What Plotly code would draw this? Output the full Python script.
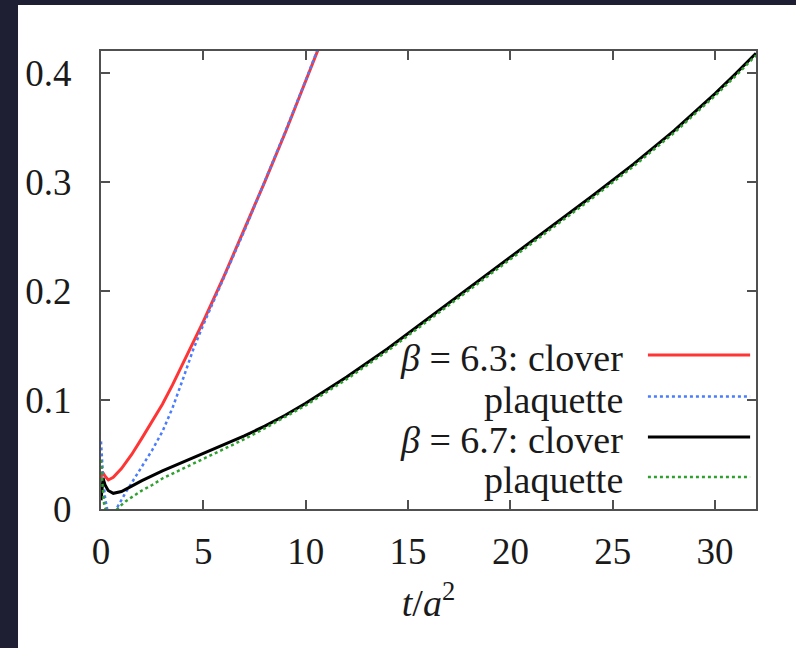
import plotly.graph_objects as go

# ---- data ----
t_c63 = [0, 0.05, 0.1, 0.2, 0.36, 0.6, 1.0, 1.5, 2.0, 2.5, 3.0, 3.5, 4.0, 5.0, 6.0, 7.0, 8.0, 9.0, 10.0, 10.6, 11.0]
y_c63 = [0.028, 0.034, 0.033, 0.030, 0.0266, 0.029, 0.037, 0.050, 0.065, 0.080, 0.096, 0.114, 0.133, 0.172, 0.213, 0.256, 0.300, 0.345, 0.392, 0.421, 0.440]

t_p63 = [0, 0.05, 0.1, 0.2, 0.35, 0.5, 0.7, 0.9, 1.2, 1.6, 2.0, 2.5, 3.0, 3.5, 4.0, 4.5, 5.0, 5.5, 6.0, 7.0, 8.0, 9.0, 10.0, 10.6, 11.0]
y_p63 = [0.062, 0.045, 0.03, 0.01, -0.005, -0.008, -0.002, 0.005, 0.015, 0.027, 0.039, 0.054, 0.071, 0.093, 0.119, 0.146, 0.169, 0.191, 0.212, 0.255, 0.300, 0.346, 0.393, 0.423, 0.442]

t_c67 = [0, 0.04, 0.1, 0.2, 0.35, 0.6, 1.0, 1.5, 2.0, 3.0, 4.0, 5.0, 6.0, 7.0, 8.0, 9.0, 10.0, 12.0, 14.0, 16.0, 18.0, 20.0, 22.0, 24.0, 26.0, 28.0, 30.0, 31.0, 32.0]
y_c67 = [0.008, 0.020, 0.028, 0.022, 0.017, 0.0144, 0.016, 0.021, 0.026, 0.035, 0.043, 0.051, 0.059, 0.067, 0.076, 0.086, 0.097, 0.121, 0.147, 0.175, 0.203, 0.231, 0.259, 0.287, 0.316, 0.347, 0.381, 0.399, 0.418]

t_p67 = [0, 0.03, 0.08, 0.15, 0.3, 0.6, 0.9, 1.2, 1.6, 2.0, 2.5, 3.0, 4.0, 5.0, 6.0, 7.0, 8.0, 10.0, 12.0, 14.0, 16.0, 18.0, 20.0, 22.0, 24.0, 26.0, 28.0, 30.0, 31.0, 32.0]
y_p67 = [0.045, 0.040, 0.020, 0.005, -0.005, -0.004, 0.002, 0.007, 0.012, 0.017, 0.022, 0.028, 0.037, 0.046, 0.055, 0.064, 0.074, 0.095, 0.119, 0.145, 0.173, 0.201, 0.229, 0.257, 0.285, 0.314, 0.345, 0.379, 0.397, 0.416]

legend_labels = ["<i>β</i> = 6.3: clover", "plaquette", "<i>β</i> = 6.7: clover", "plaquette"]
x_ticks = [0, 5, 10, 15, 20, 25, 30]
y_ticks = [0, 0.1, 0.2, 0.3, 0.4]

# ---- styles ----
FONT = "Liberation Serif"
TXT = "#1a1a1a"
styles = [
    dict(color="#ff3535", width=3, dash="solid"),
    dict(color="#4a7cff", width=2.5, dash="dot"),
    dict(color="#000000", width=3, dash="solid"),
    dict(color="#2ea02e", width=2.5, dash="dot"),
]
series = [(t_c63, y_c63), (t_p63, y_p63), (t_c67, y_c67), (t_p67, y_p67)]

fig = go.Figure()
for (tx, ty), st, name in zip(series, styles, legend_labels):
    fig.add_trace(go.Scatter(x=tx, y=ty, mode="lines", line=st, name=name, showlegend=False))

# white page area on dark frame
shapes = [dict(type="rect", xref="paper", yref="paper", x0=-0.1267, x1=1.07, y0=-0.31, y1=1.1004,
               fillcolor="white", line=dict(width=0), layer="below")]

# custom legend (text right, line sample right)
row_y = [0.336, 0.2456, 0.157, 0.0699]
annotations = []
for lab, st, yy in zip(legend_labels, styles, row_y):
    annotations.append(dict(xref="paper", yref="paper", x=0.80, y=yy - 0.007, text=lab, showarrow=False,
                            xanchor="right", yanchor="middle", font=dict(family=FONT, size=38, color=TXT)))
    shapes.append(dict(type="line", xref="paper", yref="paper", x0=0.835, x1=0.991, y0=yy, y1=yy,
                       line=dict(color=st["color"], width=st["width"], dash=st["dash"])))

axis_common = dict(showgrid=False, zeroline=False, showline=True, linecolor="#505050", linewidth=2,
                   mirror="ticks", ticks="inside", ticklen=9, tickwidth=2, tickcolor="#505050",
                   tickfont=dict(family=FONT, size=37, color=TXT))

fig.update_xaxes(range=[0, 32], tickvals=x_ticks, ticklabelstandoff=9,
                 title=dict(text="<i>t</i>/<i>a</i><sup>2</sup>", font=dict(family=FONT, size=38, color=TXT), standoff=18),
                 **axis_common)
fig.update_yaxes(range=[0, 0.42], tickvals=y_ticks, ticklabelstandoff=20, **axis_common)

fig.update_layout(width=796, height=648, autosize=False,
                  margin=dict(l=101, r=40, t=51, b=139),
                  paper_bgcolor="#1e1f33", plot_bgcolor="white",
                  shapes=shapes, annotations=annotations)

fig.write_html("out.html")
